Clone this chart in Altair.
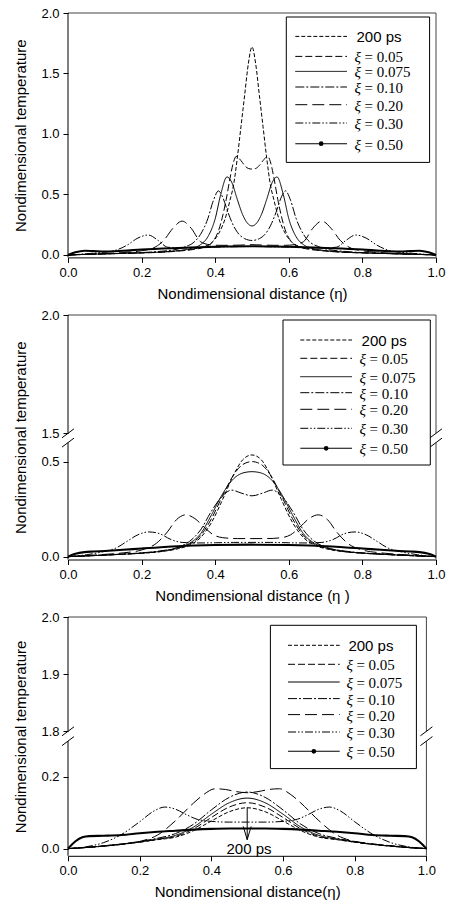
import altair as alt
import pandas as pd

# ---------------- labels / ticks ----------------
SERIES = ["200 ps", "0.05", "0.075", "0.10", "0.20", "0.30", "0.50"]
Y_TITLE = "Nondimensional temperature"
X_TITLE_1 = "Nondimensional distance (η)"
X_TITLE_2 = "Nondimensional distance (η )"
X_TITLE_3 = "Nondimensional distance(η)"
X_TICKS = [0.0, 0.2, 0.4, 0.6, 0.8, 1.0]
Y_TICKS_1 = [0.0, 0.5, 1.0, 1.5, 2.0]
Y_TICKS_2 = [0.0, 0.5, 1.5, 2.0]
Y_TICKS_3 = [0.0, 0.2, 1.8, 1.9, 2.0]
Y_DOMAIN_1 = [-0.02, 2.0]
Y_DOMAIN_2 = [-0.015, 0.6, 1.5, 2.0]
Y_DOMAIN_3 = [-0.02, 0.3, 1.8, 2.0]

# ---------------- panel 1 ----------------
P1_A_ETA = [0, 0.05, 0.1, 0.15, 0.2, 0.25, 0.3, 0.34, 0.37, 0.39, 0.41, 0.43, 0.44, 0.45, 0.46, 0.47, 0.48, 0.49, 0.5,
            0.51, 0.52, 0.53, 0.54, 0.55, 0.56, 0.57, 0.59, 0.61, 0.63, 0.66, 0.7, 0.75, 0.8, 0.85, 0.9, 0.95, 1.0]
P1_A_T = [0, 0.006, 0.01, 0.014, 0.018, 0.024, 0.035, 0.05, 0.07, 0.10, 0.18, 0.33, 0.45, 0.58, 0.80, 1.06, 1.32, 1.58, 1.72,
          1.58, 1.32, 1.06, 0.80, 0.58, 0.45, 0.33, 0.18, 0.10, 0.07, 0.05, 0.035, 0.024, 0.018, 0.014, 0.01, 0.006, 0]
P1_B_ETA = [0, 0.05, 0.1, 0.15, 0.2, 0.25, 0.3, 0.34, 0.37, 0.39, 0.41, 0.43, 0.44, 0.45, 0.457, 0.47, 0.48, 0.49, 0.5,
            0.51, 0.52, 0.53, 0.543, 0.55, 0.56, 0.57, 0.59, 0.61, 0.63, 0.66, 0.7, 0.75, 0.8, 0.85, 0.9, 0.95, 1.0]
P1_B_T = [0, 0.005, 0.009, 0.013, 0.017, 0.022, 0.032, 0.045, 0.065, 0.10, 0.21, 0.46, 0.63, 0.77, 0.815, 0.78, 0.74, 0.715, 0.71,
          0.715, 0.74, 0.78, 0.815, 0.77, 0.63, 0.46, 0.21, 0.10, 0.065, 0.045, 0.032, 0.022, 0.017, 0.013, 0.009, 0.005, 0]
P1_C_ETA = [0, 0.05, 0.1, 0.15, 0.2, 0.25, 0.3, 0.33, 0.36, 0.38, 0.40, 0.415, 0.432, 0.445, 0.46, 0.475, 0.49, 0.5,
            0.51, 0.525, 0.54, 0.555, 0.568, 0.585, 0.60, 0.62, 0.64, 0.67, 0.7, 0.75, 0.8, 0.85, 0.9, 0.95, 1.0]
P1_C_T = [0, 0.005, 0.009, 0.013, 0.018, 0.024, 0.036, 0.05, 0.085, 0.15, 0.30, 0.50, 0.645, 0.60, 0.46, 0.33, 0.255, 0.24,
          0.255, 0.33, 0.46, 0.60, 0.645, 0.50, 0.30, 0.15, 0.085, 0.05, 0.036, 0.024, 0.018, 0.013, 0.009, 0.005, 0]
P1_D_ETA = [0, 0.05, 0.1, 0.15, 0.2, 0.25, 0.3, 0.32, 0.34, 0.36, 0.38, 0.395, 0.409, 0.42, 0.435, 0.45, 0.465, 0.48, 0.5,
            0.52, 0.535, 0.55, 0.565, 0.58, 0.591, 0.605, 0.62, 0.64, 0.66, 0.68, 0.7, 0.75, 0.8, 0.85, 0.9, 0.95, 1.0]
P1_D_T = [0, 0.005, 0.009, 0.014, 0.02, 0.03, 0.05, 0.07, 0.1, 0.17, 0.3, 0.45, 0.53, 0.48, 0.35, 0.24, 0.17, 0.135, 0.12,
          0.135, 0.17, 0.24, 0.35, 0.48, 0.53, 0.45, 0.3, 0.17, 0.1, 0.07, 0.05, 0.03, 0.02, 0.014, 0.009, 0.005, 0]
P1_E_ETA = [0, 0.05, 0.1, 0.15, 0.2, 0.23, 0.26, 0.285, 0.31, 0.335, 0.36, 0.385, 0.41, 0.44, 0.47, 0.5,
            0.53, 0.56, 0.59, 0.615, 0.64, 0.665, 0.69, 0.715, 0.74, 0.77, 0.8, 0.85, 0.9, 0.95, 1.0]
P1_E_T = [0, 0.006, 0.012, 0.02, 0.035, 0.055, 0.12, 0.22, 0.28, 0.22, 0.11, 0.085, 0.08, 0.08, 0.082, 0.085,
          0.082, 0.08, 0.08, 0.085, 0.11, 0.22, 0.28, 0.22, 0.12, 0.055, 0.035, 0.02, 0.012, 0.006, 0]
P1_F_ETA = [0, 0.05, 0.1, 0.13, 0.16, 0.19, 0.218, 0.245, 0.27, 0.3, 0.35, 0.4, 0.45, 0.5,
            0.55, 0.6, 0.65, 0.7, 0.73, 0.755, 0.782, 0.81, 0.84, 0.87, 0.9, 0.95, 1.0]
P1_F_T = [0, 0.01, 0.025, 0.04, 0.08, 0.14, 0.165, 0.12, 0.065, 0.058, 0.06, 0.065, 0.068, 0.07,
          0.068, 0.065, 0.06, 0.058, 0.065, 0.12, 0.165, 0.14, 0.08, 0.04, 0.025, 0.01, 0]
P1_G_ETA = [0, 0.02, 0.045, 0.07, 0.1, 0.15, 0.2, 0.3, 0.4, 0.5, 0.6, 0.7, 0.8, 0.85, 0.9, 0.93, 0.955, 0.98, 1.0]
P1_G_T = [0, 0.022, 0.035, 0.032, 0.028, 0.035, 0.045, 0.058, 0.068, 0.072, 0.068, 0.058, 0.045, 0.035, 0.028, 0.032, 0.035, 0.022, 0]

# ---------------- panel 2 ----------------
P2_ETA = [0, 0.05, 0.1, 0.15, 0.2, 0.25, 0.3, 0.33, 0.36, 0.39, 0.42, 0.45, 0.475, 0.5,
          0.525, 0.55, 0.58, 0.61, 0.64, 0.67, 0.7, 0.75, 0.8, 0.85, 0.9, 0.95, 1.0]
P2_A_T = [0, 0.004, 0.008, 0.013, 0.018, 0.026, 0.042, 0.06, 0.1, 0.18, 0.3, 0.43, 0.51, 0.535,
          0.51, 0.43, 0.3, 0.18, 0.1, 0.06, 0.042, 0.026, 0.018, 0.013, 0.008, 0.004, 0]
P2_B_T = [0, 0.004, 0.008, 0.013, 0.018, 0.027, 0.045, 0.065, 0.11, 0.2, 0.32, 0.43, 0.485, 0.50,
          0.485, 0.43, 0.32, 0.2, 0.11, 0.065, 0.045, 0.027, 0.018, 0.013, 0.008, 0.004, 0]
P2_C_T = [0, 0.004, 0.008, 0.013, 0.019, 0.028, 0.048, 0.07, 0.12, 0.22, 0.33, 0.41, 0.44, 0.447,
          0.44, 0.41, 0.33, 0.22, 0.12, 0.07, 0.048, 0.028, 0.019, 0.013, 0.008, 0.004, 0]
P2_D_ETA = [0, 0.05, 0.1, 0.15, 0.2, 0.25, 0.3, 0.33, 0.36, 0.39, 0.42, 0.445, 0.47, 0.5,
            0.53, 0.555, 0.58, 0.61, 0.64, 0.67, 0.7, 0.75, 0.8, 0.85, 0.9, 0.95, 1.0]
P2_D_T = [0, 0.004, 0.009, 0.014, 0.02, 0.03, 0.05, 0.08, 0.14, 0.24, 0.32, 0.35, 0.335, 0.32,
          0.335, 0.35, 0.32, 0.24, 0.14, 0.08, 0.05, 0.03, 0.02, 0.014, 0.009, 0.004, 0]
P2_E_ETA = [0, 0.05, 0.1, 0.15, 0.2, 0.24, 0.27, 0.295, 0.32, 0.345, 0.37, 0.395, 0.42, 0.46, 0.5,
            0.54, 0.58, 0.605, 0.63, 0.655, 0.68, 0.705, 0.73, 0.76, 0.8, 0.85, 0.9, 0.95, 1.0]
P2_E_T = [0, 0.006, 0.012, 0.02, 0.035, 0.07, 0.13, 0.195, 0.22, 0.2, 0.155, 0.115, 0.1, 0.095, 0.095,
          0.095, 0.1, 0.115, 0.155, 0.2, 0.22, 0.195, 0.13, 0.07, 0.035, 0.02, 0.012, 0.006, 0]
P2_F_ETA = [0, 0.05, 0.1, 0.13, 0.16, 0.19, 0.22, 0.25, 0.28, 0.31, 0.35, 0.4, 0.45, 0.5,
            0.55, 0.6, 0.65, 0.69, 0.72, 0.75, 0.78, 0.81, 0.84, 0.87, 0.9, 0.95, 1.0]
P2_F_T = [0, 0.01, 0.028, 0.045, 0.08, 0.115, 0.13, 0.12, 0.09, 0.075, 0.072, 0.073, 0.075, 0.075,
          0.075, 0.073, 0.072, 0.075, 0.09, 0.12, 0.13, 0.115, 0.08, 0.045, 0.028, 0.01, 0]
P2_G_ETA = [0, 0.02, 0.045, 0.07, 0.1, 0.15, 0.2, 0.3, 0.4, 0.5, 0.6, 0.7, 0.8, 0.85, 0.9, 0.93, 0.955, 0.98, 1.0]
P2_G_T = [0, 0.015, 0.024, 0.027, 0.03, 0.036, 0.043, 0.055, 0.061, 0.063, 0.061, 0.055, 0.043, 0.036, 0.03, 0.027, 0.024, 0.015, 0]

# ---------------- panel 3 ----------------
P3_BELL_ETA = [0, 0.05, 0.1, 0.15, 0.2, 0.25, 0.3, 0.35, 0.4, 0.45, 0.5,
               0.55, 0.6, 0.65, 0.7, 0.75, 0.8, 0.85, 0.9, 0.95, 1.0]
P3_A_T = [0, 0.003, 0.007, 0.012, 0.018, 0.025, 0.032, 0.05, 0.077, 0.103, 0.114,
          0.103, 0.077, 0.05, 0.032, 0.025, 0.018, 0.012, 0.007, 0.003, 0]
P3_B_T = [0, 0.003, 0.007, 0.012, 0.018, 0.026, 0.034, 0.055, 0.087, 0.116, 0.128,
          0.116, 0.087, 0.055, 0.034, 0.026, 0.018, 0.012, 0.007, 0.003, 0]
P3_C_T = [0, 0.003, 0.007, 0.012, 0.019, 0.027, 0.037, 0.06, 0.096, 0.128, 0.141,
          0.128, 0.096, 0.06, 0.037, 0.027, 0.019, 0.012, 0.007, 0.003, 0]
P3_D_T = [0, 0.004, 0.008, 0.013, 0.02, 0.029, 0.042, 0.068, 0.108, 0.143, 0.158,
          0.143, 0.108, 0.068, 0.042, 0.029, 0.02, 0.013, 0.008, 0.004, 0]
P3_E_ETA = [0, 0.05, 0.1, 0.15, 0.2, 0.25, 0.3, 0.35, 0.38, 0.41, 0.44, 0.47, 0.5,
            0.53, 0.56, 0.59, 0.62, 0.65, 0.7, 0.75, 0.8, 0.85, 0.9, 0.95, 1.0]
P3_E_T = [0, 0.003, 0.008, 0.013, 0.02, 0.038, 0.078, 0.127, 0.152, 0.167, 0.165, 0.159, 0.156,
          0.159, 0.165, 0.167, 0.152, 0.127, 0.078, 0.038, 0.02, 0.013, 0.008, 0.003, 0]
P3_F_ETA = [0, 0.05, 0.1, 0.15, 0.2, 0.24, 0.27, 0.3, 0.33, 0.36, 0.4, 0.45, 0.5,
            0.55, 0.6, 0.64, 0.67, 0.7, 0.73, 0.76, 0.8, 0.85, 0.9, 0.95, 1.0]
P3_F_T = [0, 0.005, 0.017, 0.04, 0.075, 0.105, 0.116, 0.11, 0.095, 0.082, 0.076, 0.074, 0.074,
          0.074, 0.076, 0.082, 0.095, 0.11, 0.116, 0.105, 0.075, 0.04, 0.017, 0.005, 0]
P3_G_ETA = [0, 0.02, 0.04, 0.06, 0.1, 0.15, 0.2, 0.25, 0.3, 0.35, 0.4, 0.45, 0.5,
            0.55, 0.6, 0.65, 0.7, 0.75, 0.8, 0.85, 0.9, 0.94, 0.96, 0.98, 1.0]
P3_G_T = [0, 0.02, 0.032, 0.035, 0.036, 0.038, 0.043, 0.047, 0.05, 0.053, 0.055, 0.056, 0.056,
          0.056, 0.055, 0.053, 0.05, 0.047, 0.043, 0.038, 0.036, 0.035, 0.032, 0.02, 0]

# annotation in panel 3
ARROW_ETA = [0.5, 0.5]
ARROW_T = [0.115, 0.025]
ARROW_HEAD_ETA = [0.489, 0.5, 0.511]
ARROW_HEAD_T = [0.062, 0.025, 0.062]
ARROW_LABEL = "200 ps"
ARROW_LABEL_ETA = [0.505]
ARROW_LABEL_T = [-0.002]

# ---------------- styles ----------------
DASHES = [[4, 2], [7, 3], [1, 0], [9, 2, 2, 2], [12, 5], [8, 2, 1.5, 2, 1.5, 2], [1, 0]]
THICK_WIDTH = 2.1
FRAME_GRAY = "#444444"
SANS = "Liberation Sans"
SERIF = "Liberation Serif"

ONE = pd.DataFrame({"k": [0]})


def build_df(entries):
    rows = []
    for name, etas, ts in entries:
        assert len(etas) == len(ts), name
        for e, t in zip(etas, ts):
            rows.append({"series": name, "eta": e, "T": t})
    return pd.DataFrame(rows)


def seg(x1, y1, x2, y2, color="black", width=1.0, dash=None):
    kw = dict(color=color, strokeWidth=width)
    if dash is not None:
        kw["strokeDash"] = dash
    return alt.Chart(ONE).mark_rule(**kw).encode(
        x=alt.value(x1), y=alt.value(y1), x2=alt.value(x2), y2=alt.value(y2))


def panel(df, W, H, ydomain, yrange, yticks, xtitle, leg, brk=None, extras=None):
    xs = alt.Scale(domain=[0, 1], nice=False, zero=False)
    ys = alt.Scale(domain=ydomain, range=yrange, nice=False, zero=False)
    X = alt.X("eta:Q", scale=xs, axis=alt.Axis(values=X_TICKS, format=".1f", title=xtitle,
                                               tickSize=5, labelPadding=4, titlePadding=7,
                                               labelFlush=False, domainColor="black"))
    Y = alt.Y("T:Q", scale=ys, axis=alt.Axis(values=yticks, format=".1f", title=Y_TITLE, domain=False,
                                             tickSize=5, labelPadding=4, titlePadding=12, labelFlush=False))
    thin_df = df[df["series"] != SERIES[6]]
    thick_df = df[df["series"] == SERIES[6]]
    lines = alt.Chart(thin_df).mark_line(color="black", strokeWidth=1, interpolate="monotone").encode(
        x=X, y=Y,
        strokeDash=alt.StrokeDash("series:N", scale=alt.Scale(domain=SERIES[:6], range=DASHES[:6]), legend=None),
        detail="series:N",
    )
    thick = alt.Chart(thick_df).mark_line(color="black", strokeWidth=THICK_WIDTH, interpolate="monotone").encode(
        x=X, y=Y)
    layers = []
    # frame
    layers.append(seg(0, 0, W, 0, FRAME_GRAY))
    if brk is None:
        layers.append(seg(0, 0, 0, H))
        layers.append(seg(W, 0, W, H, FRAME_GRAY))
    else:
        ya, yb = brk
        layers += [seg(0, 0, 0, ya), seg(0, yb, 0, H),
                   seg(W, 0, W, ya, FRAME_GRAY), seg(W, yb, W, H, FRAME_GRAY)]
        for xx in (0, W):
            for yy in (ya, yb):
                layers.append(seg(xx - 6, yy + 4.5, xx + 6, yy - 4.5))
    layers += [lines, thick]
    if extras:
        layers += extras(X, Y)
    # legend
    x0, y0, w, h, lx0, lx1, tx, rows = leg
    layers.append(alt.Chart(ONE).mark_rect(fill="white", stroke="black", strokeWidth=1).encode(
        x=alt.value(x0), x2=alt.value(x0 + w), y=alt.value(y0), y2=alt.value(y0 + h)))
    for i, name in enumerate(SERIES):
        yy = rows[i]
        layers.append(seg(lx0, yy, lx1, yy, width=1.1 if i == 6 else 1, dash=DASHES[i]))
        if i == 0:
            layers.append(alt.Chart(ONE).mark_text(text=name, font=SANS, fontSize=15, align="left",
                                                   baseline="middle", color="black").encode(
                x=alt.value(tx + 2), y=alt.value(yy + 1)))
        else:
            layers.append(alt.Chart(ONE).mark_text(text="ξ", font=SERIF, fontSize=15, fontStyle="italic",
                                                   align="left", baseline="middle", color="black").encode(
                x=alt.value(tx), y=alt.value(yy + 1)))
            layers.append(alt.Chart(ONE).mark_text(text="= " + name, font=SERIF, fontSize=15, align="left",
                                                   baseline="middle", color="black").encode(
                x=alt.value(tx + 10), y=alt.value(yy + 1)))
        if i == 6:
            layers.append(alt.Chart(ONE).mark_point(filled=True, size=22, color="black", shape="circle",
                                                    opacity=1).encode(
                x=alt.value((lx0 + lx1) / 2), y=alt.value(yy)))
    return alt.layer(*layers).properties(width=W, height=H)


# ---------------- data frames ----------------
df1 = build_df([
    (SERIES[0], P1_A_ETA, P1_A_T), (SERIES[1], P1_B_ETA, P1_B_T), (SERIES[2], P1_C_ETA, P1_C_T),
    (SERIES[3], P1_D_ETA, P1_D_T), (SERIES[4], P1_E_ETA, P1_E_T), (SERIES[5], P1_F_ETA, P1_F_T),
    (SERIES[6], P1_G_ETA, P1_G_T)])
df2 = build_df([
    (SERIES[0], P2_ETA, P2_A_T), (SERIES[1], P2_ETA, P2_B_T), (SERIES[2], P2_ETA, P2_C_T),
    (SERIES[3], P2_D_ETA, P2_D_T), (SERIES[4], P2_E_ETA, P2_E_T), (SERIES[5], P2_F_ETA, P2_F_T),
    (SERIES[6], P2_G_ETA, P2_G_T)])
df3 = build_df([
    (SERIES[0], P3_BELL_ETA, P3_A_T), (SERIES[1], P3_BELL_ETA, P3_B_T), (SERIES[2], P3_BELL_ETA, P3_C_T),
    (SERIES[3], P3_BELL_ETA, P3_D_T), (SERIES[4], P3_E_ETA, P3_E_T), (SERIES[5], P3_F_ETA, P3_F_T),
    (SERIES[6], P3_G_ETA, P3_G_T)])


def arrow_layers(X, Y):
    shaft = alt.Chart(pd.DataFrame({"eta": ARROW_ETA, "T": ARROW_T})).mark_line(
        color="black", strokeWidth=1).encode(x=X, y=Y)
    head = alt.Chart(pd.DataFrame({"eta": ARROW_HEAD_ETA, "T": ARROW_HEAD_T})).mark_line(
        color="black", strokeWidth=1).encode(x=X, y=Y)
    label = alt.Chart(pd.DataFrame({"eta": ARROW_LABEL_ETA, "T": ARROW_LABEL_T})).mark_text(
        text=ARROW_LABEL, font=SANS, fontSize=15, align="center", baseline="middle", color="black").encode(x=X, y=Y)
    return [shaft, head, label]


W12, W3 = 368, 358.4
H1, H2, H3 = 244.4, 244.5, 238.8

p1 = panel(df1, W12, H1, Y_DOMAIN_1, [H1, 0], Y_TICKS_1, X_TITLE_1,
           (218.3, 4, 143.3, 145.4, 227.3, 279, 286.5, [23.4, 43.4, 58.4, 74, 91.7, 110, 130.7]))
p2 = panel(df2, W12, H2, Y_DOMAIN_2, [H2, 127.6, 118.3, 0], Y_TICKS_2, X_TITLE_2,
           (215, 5, 147.3, 145, 232.3, 284, 291.6, [25, 43.3, 61.7, 77.7, 94.3, 113.3, 133.3]),
           brk=(118.3, 127.6))
p3 = panel(df3, W3, H3, Y_DOMAIN_3, [H3, 124.1, 114.3, 0], Y_TICKS_3, X_TITLE_3,
           (202.4, 8.3, 146, 143.3, 220, 271.7, 278.4, [28.3, 47.3, 65, 81.6, 97.6, 115, 134.3]),
           brk=(114.3, 124.1), extras=arrow_layers)

chart = alt.vconcat(p1, p2, p3, spacing=57, bounds="flush").properties(
    padding={"left": 13, "top": 7, "right": 5, "bottom": 3}
).configure_view(stroke=None).configure_axis(
    grid=False, labelFont=SANS, labelFontSize=13, labelColor="black",
    titleFont=SANS, titleFontSize=15, titleFontWeight="normal", titleColor="black",
    tickColor="black", domainColor="black"
)

chart.save("out.html", embed_options={"renderer": "svg", "actions": False})
